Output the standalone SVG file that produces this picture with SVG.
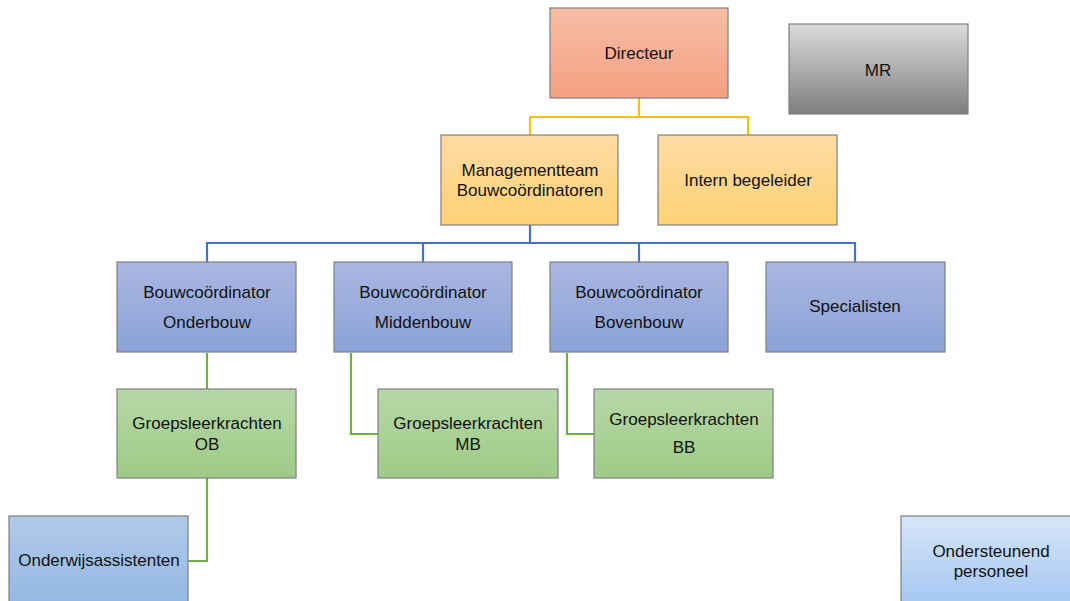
<svg xmlns="http://www.w3.org/2000/svg" width="1070" height="601" viewBox="0 0 1070 601">
<defs>
<linearGradient id="gRed" x1="0" y1="0" x2="0" y2="1"><stop offset="0" stop-color="#f7bda6"/><stop offset="1" stop-color="#f4a081"/></linearGradient>
<linearGradient id="gGray" x1="0" y1="0" x2="0" y2="1"><stop offset="0" stop-color="#dcdcdc"/><stop offset="1" stop-color="#7e7e7e"/></linearGradient>
<linearGradient id="gYel" x1="0" y1="0" x2="0" y2="1"><stop offset="0" stop-color="#fedba3"/><stop offset="1" stop-color="#fed275"/></linearGradient>
<linearGradient id="gBlue" x1="0" y1="0" x2="0" y2="1"><stop offset="0" stop-color="#aab7e1"/><stop offset="1" stop-color="#8ba2d8"/></linearGradient>
<linearGradient id="gGreen" x1="0" y1="0" x2="0" y2="1"><stop offset="0" stop-color="#b6d8a7"/><stop offset="1" stop-color="#9fca87"/></linearGradient>
<linearGradient id="gLB" x1="0" y1="0" x2="0" y2="1"><stop offset="0" stop-color="#b0cbe9"/><stop offset="1" stop-color="#93b7e3"/></linearGradient>
<linearGradient id="gPale" x1="0" y1="0" x2="0" y2="1"><stop offset="0" stop-color="#d6e6f9"/><stop offset="1" stop-color="#a3c6f0"/></linearGradient>
</defs>
<style>
.box{stroke:#7f7f7f;stroke-width:1.2}
text{font-family:"Liberation Sans",Arial,sans-serif;font-size:17px;fill:#111;text-anchor:middle;dominant-baseline:central}
.c{fill:none;stroke-width:2.2}
.y{stroke:#ffc000}.b{stroke:#4472c4}.g{stroke:#70ad47}
</style>
<g id="connectors">
<path class="c y" d="M639 98V117M530 117H748M530 116V135M748 116V135"/>
<path class="c b" d="M530 225V243M207 243H855M207 242V262M423 242V262M639 242V262M855 242V262"/>
<path class="c g" d="M207 353V389M207 478V561H188M351 353V434H378M567 353V434H594"/>
</g>
<g id="directeur"><rect class="box" x="550" y="8" width="178" height="90" fill="url(#gRed)"/><text x="639" y="53">Directeur</text></g>
<g id="mr"><rect class="box" x="789" y="24" width="179" height="90" fill="url(#gGray)"/><text x="878" y="70">MR</text></g>
<g id="managementteam"><rect class="box" x="441" y="135" width="177" height="90" fill="url(#gYel)"/><text x="530" y="170">Managementteam</text><text x="530" y="190">Bouwcoördinatoren</text></g>
<g id="intern"><rect class="box" x="658" y="135" width="179" height="90" fill="url(#gYel)"/><text x="748" y="180">Intern begeleider</text></g>
<g id="bc-onderbouw"><rect class="box" x="117" y="262" width="179" height="90" fill="url(#gBlue)"/><text x="207" y="292">Bouwcoördinator</text><text x="207" y="322">Onderbouw</text></g>
<g id="bc-middenbouw"><rect class="box" x="334" y="262" width="178" height="90" fill="url(#gBlue)"/><text x="423" y="292">Bouwcoördinator</text><text x="423" y="322">Middenbouw</text></g>
<g id="bc-bovenbouw"><rect class="box" x="550" y="262" width="178" height="90" fill="url(#gBlue)"/><text x="639" y="292">Bouwcoördinator</text><text x="639" y="322">Bovenbouw</text></g>
<g id="specialisten"><rect class="box" x="766" y="262" width="179" height="90" fill="url(#gBlue)"/><text x="855" y="306">Specialisten</text></g>
<g id="gl-ob"><rect class="box" x="117" y="389" width="179" height="89" fill="url(#gGreen)"/><text x="207" y="423">Groepsleerkrachten</text><text x="207" y="444">OB</text></g>
<g id="gl-mb"><rect class="box" x="378" y="389" width="180" height="89" fill="url(#gGreen)"/><text x="468" y="423">Groepsleerkrachten</text><text x="468" y="444">MB</text></g>
<g id="gl-bb"><rect class="box" x="594" y="389" width="179" height="89" fill="url(#gGreen)"/><text x="684" y="419">Groepsleerkrachten</text><text x="684" y="447">BB</text></g>
<g id="onderwijsassistenten"><rect class="box" x="9" y="516" width="179" height="90" fill="url(#gLB)"/><text x="99" y="560">Onderwijsassistenten</text></g>
<g id="ondersteunend"><rect class="box" x="901" y="516" width="179" height="90" fill="url(#gPale)"/><text x="991" y="551">Ondersteunend</text><text x="991" y="571">personeel</text></g>
</svg>
